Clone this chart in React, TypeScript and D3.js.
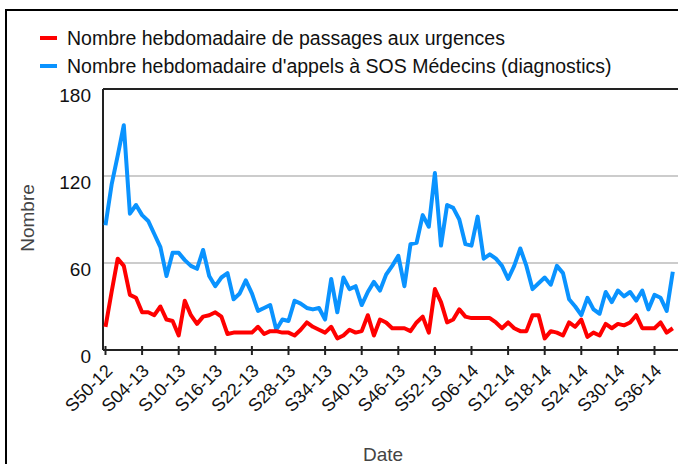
import React from 'react';
import { scalePoint, scaleLinear, line } from 'd3';

// week labels S50-12 .. S39-14 (2012 and 2013 both have 52 weeks)
function buildWeeks(startWeek: number, startYear: number, count: number) {
  const out: string[] = [];
  let w = startWeek;
  let y = startYear;
  for (let i = 0; i < count; i++) {
    out.push(`S${String(w).padStart(2, '0')}-${y}`);
    w += 1;
    if (w > 52) {
      w = 1;
      y += 1;
    }
  }
  return out;
}

const weeks = buildWeeks(50, 12, 94);

const urgences = [
  16, 40, 63, 58, 38, 36, 26, 26, 24, 30, 21, 20, 10, 34, 24, 18, 23, 24, 26, 23,
  11, 12, 12, 12, 12, 16, 11, 13, 13, 12, 12, 10, 14, 19, 16, 14, 12, 16, 8, 10,
  14, 12, 13, 24, 10, 21, 19, 15, 15, 15, 13, 19, 23, 12, 42, 33, 19, 21, 28, 23,
  22, 22, 22, 22, 19, 15, 19, 15, 13, 13, 24, 24, 8, 13, 12, 10, 19, 16, 21, 9,
  12, 10, 18, 15, 18, 17, 19, 24, 15, 15, 15, 19, 12, 15,
];

const sosMedecins = [
  86, 114, 134, 155, 94, 100, 93, 89, 80, 71, 51, 67, 67, 62, 58, 56, 69, 51, 44, 50,
  53, 35, 39, 48, 39, 27, 29, 31, 14, 21, 20, 34, 32, 29, 28, 29, 21, 49, 26, 50,
  42, 44, 31, 40, 47, 41, 52, 58, 65, 44, 73, 74, 93, 85, 122, 72, 100, 98, 90, 73,
  72, 92, 63, 66, 63, 58, 49, 58, 70, 58, 42, 46, 50, 45, 58, 53, 35, 30, 24, 36,
  28, 25, 40, 33, 41, 37, 40, 34, 41, 28, 38, 36, 27, 54,
];

const yTicks = [0, 60, 120, 180];
const xTickLabels = [
  'S50-12', 'S04-13', 'S10-13', 'S16-13', 'S22-13', 'S28-13', 'S34-13', 'S40-13',
  'S46-13', 'S52-13', 'S06-14', 'S12-14', 'S18-14', 'S24-14', 'S30-14', 'S36-14',
];

const seriesNames = [
  'Nombre hebdomadaire de passages aux urgences',
  "Nombre hebdomadaire d'appels à SOS Médecins (diagnostics)",
];
const seriesColors = ['#ff0000', '#0a93ff'];

export default function App() {
  const width = 678;
  const height = 464;
  const plot = { left: 103, top: 89, bottom: 350, right: 690 };
  const font = '"Liberation Sans", Arial, sans-serif';

  const x = scalePoint<string>().domain(weeks).range([105.5, 672.8]);
  const y = scaleLinear().domain([0, 180]).range([plot.bottom, plot.top]);

  const makeLine = line<number>()
    .x((_, i) => x(weeks[i]) ?? 0)
    .y((d) => y(d));

  return (
    <svg
      width={width}
      height={height}
      style={{ position: 'absolute', left: 0, top: 0, background: '#fff' }}
      fontFamily={font}
    >
      <rect x={0} y={0} width={width} height={height} fill="#fff" />
      <rect x={6} y={10} width={700} height={480} fill="none" stroke="#000" strokeWidth={2} />

      {/* legend */}
      {seriesNames.map((name, i) => (
        <g key={name} transform={`translate(40, ${38 + i * 28})`}>
          <line x1={0} x2={17} y1={0} y2={0} stroke={seriesColors[i]} strokeWidth={4} />
          <text x={27} y={7} fontSize={19.5} fill="#111">
            {name}
          </text>
        </g>
      ))}

      {/* grid */}
      {yTicks
        .filter((t) => t > 0 && t < 180)
        .map((t) => (
          <line
            key={t}
            x1={plot.left}
            x2={plot.right}
            y1={y(t)}
            y2={y(t)}
            stroke="#cccccc"
            strokeWidth={2}
          />
        ))}

      {/* frame of plot */}
      <line x1={plot.left} x2={plot.right} y1={plot.top} y2={plot.top} stroke="#222" strokeWidth={2} />
      <line x1={plot.left} x2={plot.left} y1={plot.top} y2={plot.bottom} stroke="#222" strokeWidth={2} />

      {/* series */}
      <path d={makeLine(sosMedecins) ?? ''} fill="none" stroke={seriesColors[1]} strokeWidth={4} strokeLinejoin="round" />
      <path d={makeLine(urgences) ?? ''} fill="none" stroke={seriesColors[0]} strokeWidth={4} strokeLinejoin="round" />

      <line x1={plot.left} x2={plot.right} y1={plot.bottom} y2={plot.bottom} stroke="#222" strokeWidth={2} />

      {/* y ticks */}
      {yTicks.map((t) => (
        <text key={t} x={91} y={y(t) + 13} fontSize={19} textAnchor="end" fill="#111">
          {t}
        </text>
      ))}

      {/* x ticks */}
      {xTickLabels.map((lab) => {
        const px = x(lab) ?? 0;
        return (
          <g key={lab}>
            <line x1={px} x2={px} y1={plot.bottom - 4} y2={plot.bottom + 5} stroke="#222" strokeWidth={2} />
            <text
              transform={`translate(${px + 8}, ${plot.bottom + 22}) rotate(-45)`}
              fontSize={18}
              textAnchor="end"
              fill="#111"
            >
              {lab}
            </text>
          </g>
        );
      })}

      <text
        transform="translate(34, 218) rotate(-90)"
        fontSize={19}
        textAnchor="middle"
        fill="#444"
      >
        Nombre
      </text>
      <text x={383} y={461} fontSize={19} textAnchor="middle" fill="#444">
        Date
      </text>
    </svg>
  );
}
